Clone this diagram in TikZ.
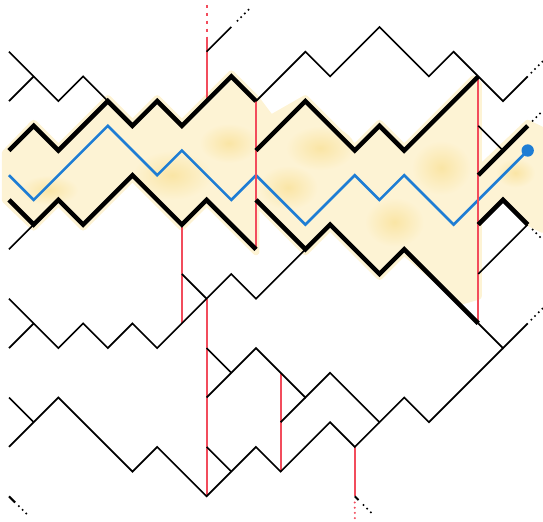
\documentclass[tikz,border=0pt]{standalone}
\usepackage{tikz}
\usetikzlibrary{calc}
\definecolor{RojoCorte}{RGB}{242,76,92}
\definecolor{AzulCamino}{RGB}{30,125,212}
\definecolor{AmarilloPalido}{RGB}{253,243,212}
\definecolor{AmarilloMedio}{RGB}{250,229,165}
\tikzset{
  camfino/.style={draw=black, line width=0.95pt},
  camgrueso/.style={draw=black, line width=2.6pt},
  camazul/.style={draw=AzulCamino, line width=1.5pt},
  corte/.style={draw=RojoCorte, line width=1.1pt},
  cortepunteado/.style={draw=RojoCorte, line width=1.1pt, dash pattern=on 2pt off 2.6pt},
  puntos/.style={draw=black, line width=1.3pt, line cap=round, dash pattern=on 0pt off 3pt},
  puntosrojos/.style={draw=RojoCorte, line width=1.3pt, line cap=round, dash pattern=on 0pt off 3pt},
  puntoazul/.style={circle, fill=AzulCamino, inner sep=0pt, minimum size=0.25cm},
  mancha/.style={inner color=AmarilloMedio, outer color=AmarilloPalido},
  % ---- banda amarilla ----
  banda/.style={fill=AmarilloPalido, draw=AmarilloPalido, line width=4pt, line join=round},
}

\begin{document}
\begin{tikzpicture}[x=0.5cm, y=-0.5cm]
  \useasboundingbox (-0.364,-0.093) rectangle (21.62,21.0);

  % banda entre los dos caminos gruesos
  \path[banda] (-0.15,6.1) -- (1,4.9) -- (2,5.9) -- (4,3.9) -- (5,4.9) -- (6,3.9) -- (7,4.9)
    -- (9,2.9) -- (10,3.9) -- (10.6,4.7) -- (12,3.9) -- (14,5.9) -- (15,4.9) -- (16,5.9)
    -- (18.8,3.1) -- (19,3.3) -- (19,6.8) -- (21,4.9) -- (21.62,5.2) -- (21.62,9.2)
    -- (21,8.9) -- (20,7.9) -- (19,8.9) -- (19,11.9) -- (18.3,12.1) -- (16,10.1) -- (15,11.1)
    -- (13,9.1) -- (12,10.1) -- (10,8.1) -- (10,10.1) -- (8,8.1) -- (7,9.1) -- (5,7.1)
    -- (3,9.1) -- (2,8.1) -- (1,9.1) -- (-0.15,8.0) -- cycle;
  \shade[mancha] (6.6,7.0) ellipse [x radius=0.8cm, y radius=0.5cm];
  \shade[mancha] (8.9,5.7) ellipse [x radius=0.6cm, y radius=0.4cm];
  \shade[mancha] (12.6,5.9) ellipse [x radius=0.7cm, y radius=0.45cm];
  \shade[mancha] (17.5,6.7) ellipse [x radius=0.6cm, y radius=0.55cm];
  \shade[mancha] (15.6,8.9) ellipse [x radius=0.6cm, y radius=0.5cm];
  \shade[mancha] (11.3,7.5) ellipse [x radius=0.6cm, y radius=0.45cm];
  \shade[mancha] (1.6,7.6) ellipse [x radius=0.6cm, y radius=0.3cm];
  \shade[mancha] (20.5,6.9) ellipse [x radius=0.4cm, y radius=0.3cm];

  % camino azul
  \node[puntoazul] (fin) at (21,6) {};
  \draw[camazul] (0,7) -- (1,8) -- (4,5) -- (6,7) -- (7,6) -- (9,8) -- (10,7) -- (12,9)
    -- (14,7) -- (15,8) -- (16,7) -- (18,9) -- (fin.center);

  % cortes
  \draw[cortepunteado] (8,0.1) -- (8,1.4);
  \draw[corte] (8,1.4) -- (8,4);
  \draw[corte] (10,4) -- (10,10);
  \draw[corte] (7,9) -- (7,13);
  \draw[corte] (8,12) -- (8,20);
  \draw[corte] (11,15) -- (11,19);
  \draw[corte] (14,18) -- (14,20);
  \draw[puntosrojos] (14,20.25) -- (14,20.9);
  \draw[corte] (19,3) -- (19,13);

  % caminos gruesos
  \draw[camgrueso] (0,6) -- (1,5) -- (2,6) -- (4,4) -- (5,5) -- (6,4) -- (7,5) -- (9,3) -- (10,4);
  \draw[camgrueso] (10,6) -- (12,4) -- (14,6) -- (15,5) -- (16,6) -- (19,3);
  \draw[camgrueso] (19,7) -- (21,5);
  \draw[camgrueso] (0,8) -- (1,9) -- (2,8) -- (3,9) -- (5,7) -- (7,9) -- (8,8) -- (10,10);
  \draw[camgrueso] (10,8) -- (12,10) -- (13,9) -- (15,11) -- (16,10) -- (19,13);
  \draw[camgrueso] (19,9) -- (20,8) -- (21,9);

  % caminos finos
  \draw[camfino] (0,2) -- (2,4) -- (3,3) -- (4,4);
  \draw[camfino] (0,4) -- (1,3);
  \draw[camfino] (8,2) -- (9,1);
  \draw[camfino] (10,4) -- (12,2) -- (13,3) -- (15,1) -- (17,3) -- (18,2) -- (19,3) -- (20,4) -- (21,3);
  \draw[camfino] (19,5) -- (20,6);
  \draw[camfino] (19,11) -- (21,9);
  \draw[camfino] (19,13) -- (20,14) -- (21,13);
  \draw[camfino] (0,10) -- (1,9);
  \draw[camfino] (0,12) -- (2,14) -- (3,13) -- (4,14) -- (5,13) -- (6,14) -- (7,13) -- (8,12)
    -- (9,11) -- (10,12) -- (12,10);
  \draw[camfino] (0,14) -- (1,13);
  \draw[camfino] (7,11) -- (8,12);
  \draw[camfino] (8,14) -- (9,15);
  \draw[camfino] (8,16) -- (9,15) -- (10,14) -- (12,16) -- (13,15) -- (15,17) -- (16,16) -- (17,17) -- (20,14);
  \draw[camfino] (11,17) -- (12,16);
  \draw[camfino] (0,16) -- (1,17);
  \draw[camfino] (0,18) -- (1,17) -- (2,16) -- (5,19) -- (6,18) -- (8,20) -- (10,18) -- (11,19)
    -- (13,17) -- (14,18) -- (15,17);
  \draw[camfino] (8,18) -- (9,19);
  \draw[camfino, line width=1.2pt] (0,20) -- (0.25,20.25);
  \draw[camfino, line width=1.2pt] (14,20) -- (14.15,20.15);

  % continuaciones
  \draw[puntos] (9.25,0.75) -- ++(0.45,-0.45);
  \draw[puntos] (21.15,2.85) -- ++(0.45,-0.45);
  \draw[puntos] (21.2,4.8) -- ++(0.4,-0.4);
  \draw[puntos] (21.2,9.2) -- ++(0.4,0.4);
  \draw[puntos] (21.15,12.85) -- ++(0.45,-0.45);
  \draw[puntos] (0.4,20.4) -- ++(0.3,0.3);
  \draw[puntos] (14.35,20.35) -- ++(0.3,0.3);
\end{tikzpicture}
\end{document}
